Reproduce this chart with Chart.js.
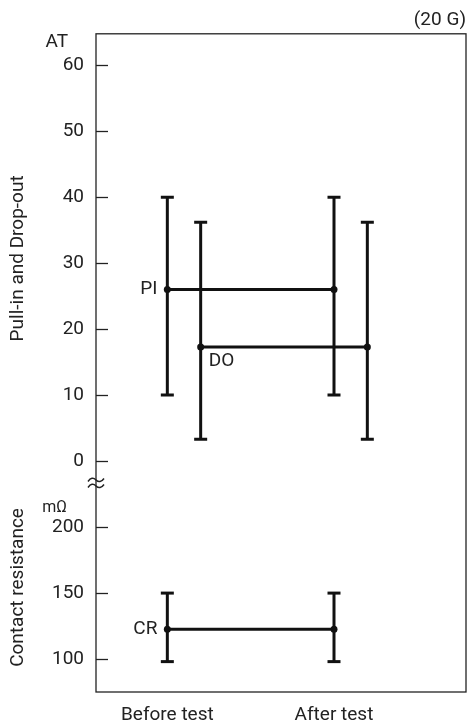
<!DOCTYPE html>
<html>
<head>
<meta charset="utf-8">
<script src="https://cdn.jsdelivr.net/npm/chart.js@4.4.1/dist/chart.umd.min.js"></script>
<style>
  html, body { margin: 0; padding: 0; background: #fff; }
  #wrap { width: 468px; height: 728px; }
</style>
</head>
<body>
<div id="wrap"><canvas id="chart" width="468" height="728"></canvas></div>
<script>
// Data
const categories = ['Before test', 'After test'];
const piMin  = [10, 10];
const piMean = [26, 26];
const piMax  = [40, 40];
const doMin  = [3.3, 3.3];
const doMean = [17.3, 17.3];
const doMax  = [36.2, 36.2];
const crMin  = [98, 98];
const crMean = [122.5, 122.5];
const crMax  = [150, 150];
const atTicks = [0, 10, 20, 30, 40, 50, 60];
const crTicks = [100, 150, 200];

const FONT = "'Liberation Sans Narrow', Roboto, sans-serif";
const INK = '#111';
const DO_SHIFT = 0.2;

// whisker = vertical line with flat caps at both ends
function whisker(x, lo, hi, axis) {
  return {
    data: [{ x, y: lo }, { x, y: hi }],
    yAxisID: axis,
    borderColor: INK,
    borderWidth: 3,
    pointStyle: 'line',
    pointRadius: 6.5,
    pointBorderWidth: 3,
    pointBorderColor: INK,
    tag: null
  };
}
function meanLine(xs, ys, axis, tag) {
  return {
    data: xs.map((x, i) => ({ x, y: ys[i] })),
    yAxisID: axis,
    borderColor: INK,
    borderWidth: 3,
    pointStyle: 'circle',
    pointRadius: 3.5,
    pointBackgroundColor: INK,
    pointBorderColor: INK,
    pointBorderWidth: 0,
    tag
  };
}

const xBase = categories.map((c, i) => i + 1);
const xDo = xBase.map(x => x + DO_SHIFT);

const datasets = [];
categories.forEach((c, i) => {
  datasets.push(whisker(xBase[i], piMin[i], piMax[i], 'y'));
  datasets.push(whisker(xDo[i], doMin[i], doMax[i], 'y'));
  datasets.push(whisker(xBase[i], crMin[i], crMax[i], 'y2'));
});
datasets.push(meanLine(xBase, piMean, 'y', 'PI'));
datasets.push(meanLine(xDo, doMean, 'y', 'DO'));
datasets.push(meanLine(xBase, crMean, 'y2', 'CR'));

// no extra label padding, so the plot area sits exactly where the frame is
function noPad(s) {
  s.paddingLeft = 0; s.paddingRight = 0; s.paddingTop = 0; s.paddingBottom = 0;
}

// frame, inner ticks, break mark, unit and series labels
const decor = {
  id: 'decor',
  afterDraw(chart) {
    const ctx = chart.ctx;
    const a = chart.chartArea;
    ctx.save();
    ctx.strokeStyle = '#222';
    ctx.lineWidth = 1.3;
    ctx.strokeRect(a.left, a.top, a.right - a.left, a.bottom - a.top);

    ['y', 'y2'].forEach(id => {
      const s = chart.scales[id];
      s.ticks.forEach(t => {
        const py = Math.round(s.getPixelForValue(t.value)) + 0.5;
        ctx.beginPath();
        ctx.moveTo(a.left, py);
        ctx.lineTo(a.left + 12, py);
        ctx.stroke();
      });
    });

    // break mark between the two scales
    const bx = a.left, by = chart.scales.y.bottom;
    ctx.lineWidth = 1.5;
    [-3, 3].forEach(d => {
      const yy = by + d;
      ctx.beginPath();
      ctx.moveTo(bx - 8, yy + 1.5);
      ctx.quadraticCurveTo(bx - 4, yy - 4, bx, yy);
      ctx.quadraticCurveTo(bx + 4, yy + 4, bx + 8, yy - 1.5);
      ctx.stroke();
    });

    ctx.fillStyle = '#222';
    ctx.textBaseline = 'middle';
    ctx.textAlign = 'right';
    ctx.font = '19px ' + FONT;
    ctx.fillText('AT', 68, 42);
    ctx.font = '16px ' + FONT;
    ctx.fillText('m\u03A9', 67, 508);

    ctx.font = '19px ' + FONT;
    chart.data.datasets.forEach((ds, i) => {
      if (!ds.tag) return;
      const p = chart.getDatasetMeta(i).data[0];
      if (ds.tag === 'DO') {
        ctx.textAlign = 'left';
        ctx.fillText(ds.tag, p.x + 8, p.y + 14);
      } else {
        ctx.textAlign = 'right';
        ctx.fillText(ds.tag, p.x - 10, p.y);
      }
    });
    ctx.restore();
  }
};

new Chart(document.getElementById('chart'), {
  type: 'line',
  data: { datasets },
  options: {
    responsive: false,
    animation: false,
    layout: { autoPadding: false, padding: { left: 0, right: 2, top: 0, bottom: 0 } },
    plugins: {
      legend: { display: false },
      tooltip: { enabled: false },
      title: {
        display: true,
        text: '(20 G)',
        align: 'end',
        color: '#222',
        font: { family: FONT, size: 19, weight: 'normal' },
        padding: { top: 9, bottom: 2 }
      }
    },
    scales: {
      x: {
        type: 'linear',
        min: 0.572,
        max: 2.792,
        grid: { display: false, drawTicks: false },
        border: { display: false },
        afterBuildTicks: s => { s.ticks = xBase.map(v => ({ value: v })); },
        afterFit: s => { noPad(s); s.height = 36; },
        ticks: {
          padding: 12,
          color: '#222',
          font: { family: FONT, size: 19 },
          maxRotation: 0,
          callback: v => categories[Math.round(v) - 1]
        }
      },
      // left boxes are stacked in reverse order: y2 listed first ends up below y
      y2: {
        type: 'linear',
        position: 'left',
        stack: 'left',
        stackWeight: 209,
        min: 74.94,
        max: 233.6,
        grid: { display: false, drawTicks: false },
        border: { display: false },
        afterBuildTicks: s => { s.ticks = crTicks.map(v => ({ value: v })); },
        afterFit: s => { noPad(s); s.width = 96; },
        ticks: { padding: 12, color: '#222', font: { family: FONT, size: 19 } },
        title: {
          display: true,
          text: 'Contact resistance',
          color: '#222',
          font: { family: FONT, size: 19 },
          padding: { top: 7, bottom: 0 }
        }
      },
      y: {
        type: 'linear',
        position: 'left',
        stack: 'left',
        stackWeight: 449,
        min: -3.34,
        max: 64.81,
        grid: { display: false, drawTicks: false },
        border: { display: false },
        afterBuildTicks: s => { s.ticks = atTicks.map(v => ({ value: v })); },
        afterFit: s => { noPad(s); s.width = 96; },
        ticks: { padding: 12, color: '#222', font: { family: FONT, size: 19 } },
        title: {
          display: true,
          text: 'Pull-in and Drop-out',
          color: '#222',
          font: { family: FONT, size: 19 },
          padding: { top: 7, bottom: 0 }
        }
      }
    }
  },
  plugins: [decor]
});
</script>
</body>
</html>
